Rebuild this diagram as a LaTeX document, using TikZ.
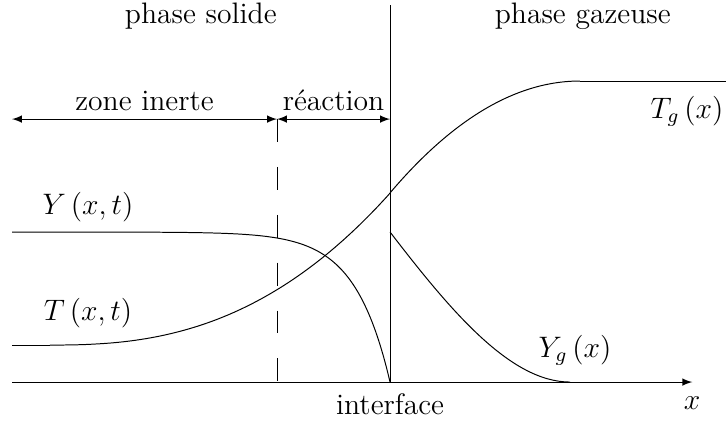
\documentclass[tikz,border=0pt]{standalone}
\usetikzlibrary{arrows}

\begin{document}
\begin{tikzpicture}[>=latex,
	every node/.style={font=\large},
	courbe/.style={smooth, samples=120},
	cote/.style={<->}]
	
	% Cadre de la figure
	\useasboundingbox (-0.171,-0.584) rectangle (10.199,5.442);
	
	% Points de repère
	\coordinate (O) at (0,0);
	\coordinate (Xfin) at (9.69,0);
	\coordinate (Ibas) at (5.385,0);
	\coordinate (Ihaut) at (5.385,5.37);
	\coordinate (Ifl) at (5.385,3.746);
	\coordinate (Rbas) at (3.775,0);
	\coordinate (Rhaut) at (3.775,3.746);
	\coordinate (Gauche) at (0,3.746);
	
	% Axe des x et interface
	\draw[->] (O) -- (Xfin);
	\draw (Ibas) -- (Ihaut);
	\node (x) at (9.687,-0.3) {$x$};
	\node[below=1pt] (interface) at (Ibas) {interface};
	
	% Limite de la zone de réaction
	\draw[dash pattern=on 9.3pt off 10.1pt] (Rhaut) -- (Rbas);
	
	% Zones (flèches)
	\draw[cote] (Gauche) -- node[above] (inerte) {zone inerte} (Rhaut);
	\draw[cote] (Rhaut) -- node[above] (reaction) {réaction} (Ifl);
	
	% Les deux phases
	\node (solide) at (2.69,5.207) {phase solide};
	\node (gaz) at (8.13,5.207) {phase gazeuse};
	
	% Fraction massique Y dans le solide
	\draw[courbe, domain=0:5.385]
	plot (\x, {2.137*(1-exp(2*(\x-5.385)))});
	\node (Y) at (1.083,2.493) {$Y\,(x,t)$};
	
	% Température T dans le solide
	\draw (0,0.527) -- (0.541,0.527);
	\draw[courbe, domain=0.541:5.385]
	plot (\x, {0.527+2.165*pow((\x-0.541)/4.844,2.5)});
	\node (T) at (1.083,0.983) {$T\,(x,t)$};
	
	% Température Tg dans le gaz
	\draw[courbe, domain=5.385:8.091]
	plot (\x, {4.288-1.595*pow((8.091-\x)/2.707,2)});
	\draw (8.091,4.288) -- (10.17,4.288);
	\node (Tg) at (9.615,3.86) {$T_g\,(x)$};
	
	% Fraction massique Yg dans le gaz
	\draw (5.385,2.137) .. controls (6.239,1.026) and (7.094,0) .. (7.949,0);
	\node (Yg) at (8.02,0.456) {$Y_g\,(x)$};
	
\end{tikzpicture}
\end{document}
